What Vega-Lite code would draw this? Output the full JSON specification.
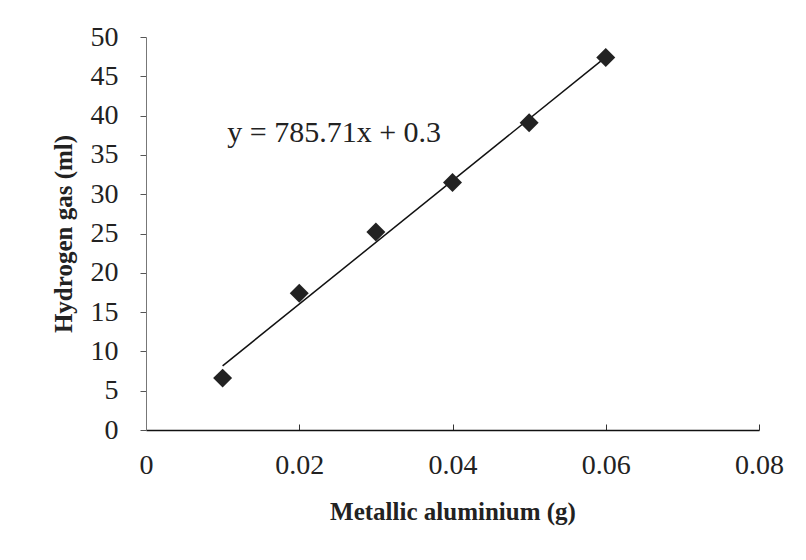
{
  "$schema": "https://vega.github.io/schema/vega-lite/v6.json",
  "width": 613,
  "height": 393,
  "autosize": {"type": "none"},
  "padding": {"left": 146, "top": 37, "right": 47, "bottom": 130},
  "background": "white",
  "config": {
    "view": {"stroke": null},
    "font": "Liberation Serif"
  },
  "datasets": {
    "pts": [
      {"al": 0.01, "h2": 6.6},
      {"al": 0.02, "h2": 17.4},
      {"al": 0.03, "h2": 25.2},
      {"al": 0.04, "h2": 31.5},
      {"al": 0.05, "h2": 39.1},
      {"al": 0.06, "h2": 47.4}
    ],
    "trend": [
      {"al": 0.01, "h2": 8.16},
      {"al": 0.06, "h2": 47.44}
    ],
    "eq": [
      {"al": 0.0106, "h2": 37.8, "label": "y = 785.71x + 0.3"}
    ]
  },
  "encoding": {
    "x": {
      "field": "al", "type": "quantitative",
      "scale": {"domain": [0, 0.08], "nice": false},
      "axis": {
        "title": "Metallic aluminium (g)",
        "values": [0, 0.02, 0.04, 0.06, 0.08],
        "format": "~g",
        "grid": false,
        "labelFlush": false,
        "labelOverlap": false,
        "domainColor": "#111", "domainWidth": 1.5,
        "tickColor": "#333", "tickSize": -6, "tickWidth": 1,
        "labelFont": "Liberation Serif", "labelFontSize": 28, "labelColor": "#222",
        "labelPadding": 27,
        "titleFont": "Liberation Serif", "titleFontSize": 25, "titleFontWeight": "bold", "titleColor": "#222",
        "titlePadding": 20
      }
    },
    "y": {
      "field": "h2", "type": "quantitative",
      "scale": {"domain": [0, 50], "nice": false},
      "axis": {
        "title": "Hydrogen gas (ml)",
        "values": [0, 5, 10, 15, 20, 25, 30, 35, 40, 45, 50],
        "grid": false,
        "labelFlush": false,
        "labelOverlap": false,
        "domainColor": "#777", "domainWidth": 1,
        "tickColor": "#555", "tickSize": 6, "tickWidth": 1,
        "labelFont": "Liberation Serif", "labelFontSize": 28, "labelColor": "#222",
        "labelPadding": 22,
        "titleFont": "Liberation Serif", "titleFontSize": 25, "titleFontWeight": "bold", "titleColor": "#222",
        "titlePadding": 14
      }
    }
  },
  "layer": [
    {
      "data": {"name": "trend"},
      "mark": {"type": "line", "color": "#111", "strokeWidth": 1.5}
    },
    {
      "data": {"name": "pts"},
      "mark": {"type": "point", "shape": "diamond", "filled": true, "size": 360, "color": "#222", "opacity": 1}
    },
    {
      "data": {"name": "eq"},
      "mark": {"type": "text", "align": "left", "baseline": "middle", "font": "Liberation Serif", "fontSize": 30, "color": "#222"},
      "encoding": {
        "text": {"field": "label"}
      }
    }
  ]
}
